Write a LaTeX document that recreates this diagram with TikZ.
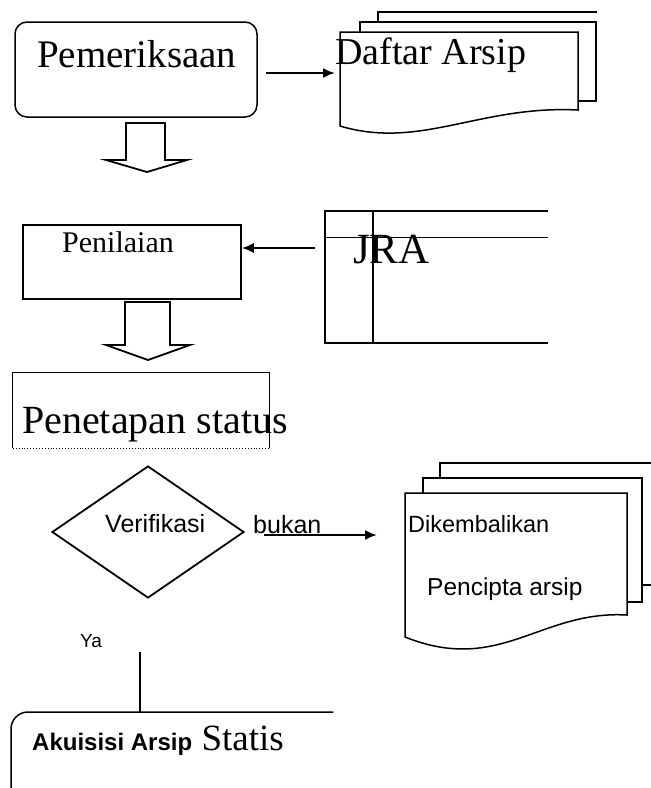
\documentclass[tikz,border=0pt]{standalone}
\usepackage{fontspec}
\setmainfont{Liberation Serif}
\setsansfont{Liberation Sans}
\usetikzlibrary{arrows.meta,shapes.geometric}

\tikzset{
  box/.style={draw, line width=1.5pt, inner sep=0pt},
  frame/.style={inner sep=0pt},
  arr/.style={line width=2pt, -{Latex[length=12pt,width=10pt]}},
  hollow/.style={line width=1.8pt, fill=white, line join=miter},
  doc/.style={line width=1.5pt, fill=white},
  lbl/.style={inner sep=0pt, anchor=base west},
}

\begin{document}
\begin{tikzpicture}[x=1pt,y=-1pt]
    \useasboundingbox (0,0) rectangle (651,788);

    % Pemeriksaan -> Daftar Arsip
    \node (pem) [box, rounded corners=12pt, minimum width=242pt, minimum height=95pt] at (136,69.5) {};
    \node (pemtxt) [lbl, font=\fontsize{39}{40}\selectfont] at (37,67) {Pemeriksaan};
    \draw[doc] (378,22) -- (378,12) -- (597,12);
    \draw[doc] (360,32) -- (360,22) -- (596,22) -- (596,101) -- (578,101);
    \draw[doc] (340,32) -- (578,32) -- (578,110) .. controls (480,105) and (420,150) .. (340,126) -- cycle;
    \coordinate (dafW) at (335,73);
    \node (daftxt) [lbl, font=\fontsize{38}{40}\selectfont] at (335,64) {Daftar Arsip};
    \draw[arr, shorten <=8pt] (pem.east |- dafW) -- (dafW);
    \draw[hollow] (126,123) -- (126,160) -- (106,160) -- (147,172) -- (187,160) -- (165,160) -- (165,123) -- cycle;

    % Penilaian <- JRA
    \node (pnl) [box, minimum width=218pt, minimum height=74pt] at (132,262) {};
    \node (pnltxt) [lbl, font=\fontsize{30}{32}\selectfont] at (62,252) {Penilaian};
    \draw[line width=1.5pt] (548,211) -- (325,211) -- (325,343) -- (548,343);
    \draw[line width=1.5pt] (373,211) -- (373,343);
    \draw[line width=0.7pt] (325,237) -- (548,237);
    \node (jratxt) [lbl, font=\fontsize{43}{45}\selectfont] at (353,263) {JRA};
    \coordinate (jraW) at (315,248);
    \draw[arr] (jraW) -- (jraW -| pnl.east);
    \draw[hollow] (125,302) -- (125,345) -- (106,345) -- (148,360) -- (190,345) -- (170,345) -- (170,302) -- cycle;

    % Penetapan status
    \node (pst) [frame, minimum width=256pt, minimum height=75pt] at (141,410.5) {};
    \draw[line width=1.3pt] (pst.south west) -- (pst.north west) -- (pst.north east) -- (pst.south east);
    \draw[line width=0.9pt, dotted] (pst.south west) -- (pst.south east);
    \node (psttxt) [lbl, font=\fontsize{40}{42}\selectfont] at (22,433) {Penetapan status};

    % Verifikasi -> Dikembalikan
    \node (ver) [diamond, draw, line width=1.8pt, inner sep=0pt, minimum width=192pt, minimum height=132pt] at (148,532) {};
    \node (vertxt) [lbl, font=\sffamily\fontsize{25}{27}\selectfont] at (105,532) {Verifikasi};
    \node (bukan) [lbl, font=\sffamily\fontsize{25}{27}\selectfont] at (253,533) {bukan};
    \draw[doc] (440,478) -- (440,463) -- (651,463);
    \draw[doc] (642,585) -- (651,585);
    \draw[doc] (423,493) -- (423,478) -- (642,478) -- (642,602) -- (627,602);
    \draw[doc] (405,493) -- (627,493) -- (627,615) .. controls (540,610) and (500,675) .. (405,637) -- cycle;
    \node (diktxt) [lbl, font=\sffamily\fontsize{23.5}{25}\selectfont] at (408,532) {Dikembalikan};
    \node (pcptxt) [lbl, font=\sffamily\fontsize{24.5}{26}\selectfont] at (427,595) {Pencipta arsip};
    \coordinate (dikW) at (377,535);
    \draw[arr, shorten <=19pt] (ver.east |- dikW) -- (dikW);

    % Ya -> Akuisisi Arsip Statis
    \node (ya) [lbl, font=\sffamily\fontsize{19}{21}\selectfont] at (80,647) {Ya};
    \coordinate (yaline) at (140,652);
    \node (aku) [frame, anchor=north west, minimum width=322pt, minimum height=76pt] at (11,712) {};
    \draw[line width=1.5pt, rounded corners=17pt] (aku.south west) -- (aku.north west) -- (aku.north east);
    \draw[line width=1.8pt] (yaline) -- (yaline |- aku.north);
    \node (akutxt) [lbl, font=\fontsize{37}{40}\selectfont] at (32,750) {{\sffamily\bfseries\fontsize{24}{26}\selectfont Akuisisi Arsip} Statis};
\end{tikzpicture}
\end{document}
